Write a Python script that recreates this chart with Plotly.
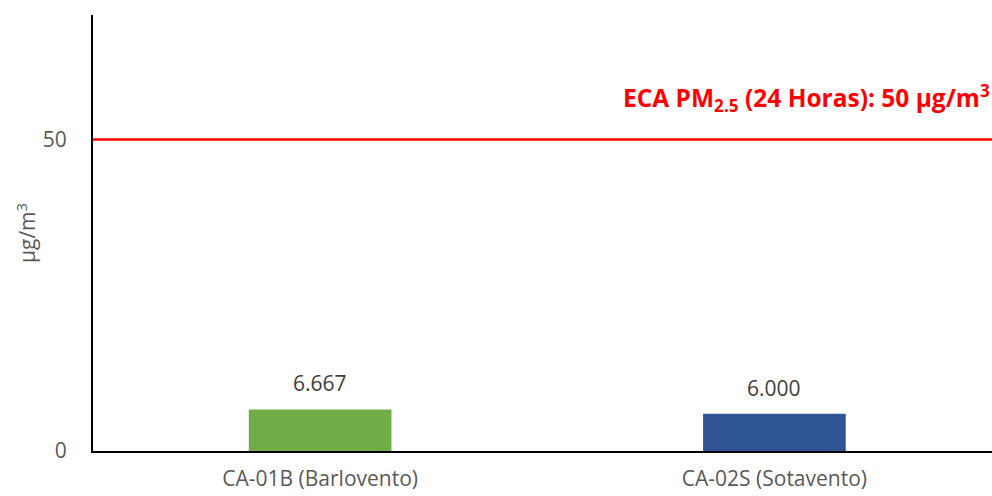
import plotly.graph_objects as go

categories = ["CA-01B (Barlovento)", "CA-02S (Sotavento)"]
values = [6.667, 6.000]
value_labels = ["6.667", "6.000"]
bar_colors = ["#70AD47", "#2F5597"]
limit_value = 50
y_ticks = [0, 50]
y_tick_labels = ["0", "50"]

FONT = "Open Sans"

fig = go.Figure()
fig.add_trace(go.Bar(
    x=categories, y=values, width=0.314,
    marker=dict(color=bar_colors, line=dict(width=0)),
    cliponaxis=False,
))

for cat, val, lab in zip(categories, values, value_labels):
    fig.add_annotation(
        x=cat, y=val, yanchor="bottom", yshift=10, text=lab, showarrow=False,
        font=dict(family=FONT, size=21, color="#404040"),
    )

fig.add_shape(type="line", xref="paper", x0=0, x1=1, yref="y", y0=limit_value, y1=limit_value,
              line=dict(color="#FF0000", width=2.5), layer="above")

fig.add_annotation(
    xref="paper", x=1.0, xanchor="right", yref="y", y=limit_value, yanchor="bottom", yshift=21,
    text="ECA PM<sub>2.5</sub> (24 Horas): 50 µg/m<sup>3</sup>",
    showarrow=False, font=dict(family=FONT, size=24.5, color="#FF0000", weight="bold"),
)

fig.update_layout(
    width=992, height=496,
    margin=dict(l=93, r=0, t=15, b=45, pad=0),
    plot_bgcolor="white", paper_bgcolor="white",
    showlegend=False,
    font=dict(family=FONT, color="#595959"),
    xaxis=dict(
        range=[-0.5, 1.479], showline=True, linecolor="black", linewidth=2,
        showgrid=False, ticks="", tickfont=dict(family=FONT, size=21, color="#595959"),
        ticklabelstandoff=8, zeroline=False,
    ),
    yaxis=dict(
        range=[0, 70], showline=True, linecolor="black", linewidth=2,
        showgrid=False, ticks="", tickvals=y_ticks, ticktext=y_tick_labels,
        tickfont=dict(family=FONT, size=21, color="#595959"),
        ticklabelstandoff=20, zeroline=False,
        title=dict(text="µg/m<sup>3</sup>", font=dict(family=FONT, size=21, color="#595959"), standoff=1),
    ),
)

fig.write_html("out.html")
